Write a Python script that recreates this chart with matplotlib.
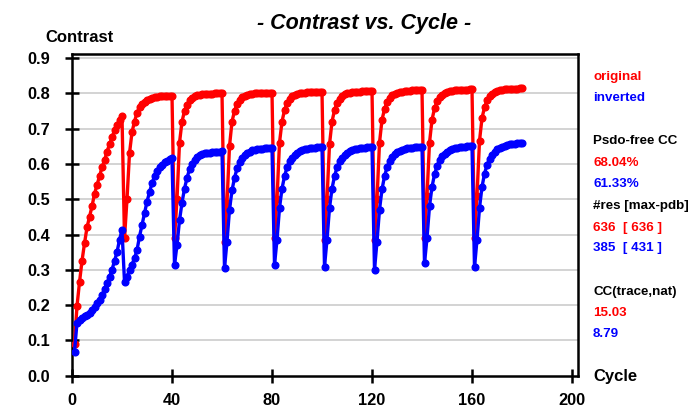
import matplotlib
matplotlib.use("Agg")
import matplotlib.pyplot as plt
import numpy as np

plt.rcParams['font.family'] = ['Liberation Sans', 'DejaVu Sans']

cycles = np.arange(1, 181)

original = [
    0.09, 0.197, 0.265, 0.325, 0.375, 0.42, 0.45, 0.48, 0.515, 0.54, 0.565, 0.59, 0.61, 0.635, 0.655, 0.675, 0.695, 0.71, 0.725, 0.735,
    0.39, 0.50, 0.63, 0.69, 0.72, 0.745, 0.76, 0.77, 0.775, 0.78, 0.784, 0.787, 0.789, 0.79, 0.791, 0.791, 0.792, 0.792, 0.793, 0.793,
    0.39, 0.50, 0.66, 0.72, 0.75, 0.768, 0.78, 0.787, 0.791, 0.794, 0.796, 0.797, 0.798, 0.798, 0.799, 0.799, 0.80, 0.80, 0.80, 0.80,
    0.38, 0.49, 0.65, 0.72, 0.75, 0.77, 0.782, 0.789, 0.793, 0.796, 0.798, 0.799, 0.80, 0.80, 0.801, 0.801, 0.802, 0.802, 0.802, 0.802,
    0.39, 0.50, 0.66, 0.72, 0.752, 0.772, 0.784, 0.791, 0.795, 0.798, 0.80, 0.801, 0.802, 0.803, 0.803, 0.804, 0.804, 0.804, 0.805, 0.805,
    0.385, 0.50, 0.655, 0.72, 0.752, 0.773, 0.785, 0.792, 0.797, 0.80, 0.802, 0.803, 0.804, 0.805, 0.805, 0.806, 0.806, 0.806, 0.807, 0.807,
    0.385, 0.50, 0.66, 0.725, 0.755, 0.775, 0.787, 0.794, 0.799, 0.802, 0.804, 0.805, 0.806, 0.807, 0.807, 0.808, 0.808, 0.808, 0.809, 0.809,
    0.39, 0.51, 0.66, 0.725, 0.757, 0.777, 0.789, 0.796, 0.801, 0.804, 0.806, 0.807, 0.808, 0.809, 0.809, 0.81, 0.81, 0.81, 0.811, 0.811,
    0.39, 0.51, 0.665, 0.73, 0.76, 0.78, 0.792, 0.799, 0.804, 0.807, 0.809, 0.81, 0.811, 0.812, 0.812, 0.813, 0.813, 0.813, 0.814, 0.814,
]

inverted = [
    0.068, 0.15, 0.158, 0.163, 0.168, 0.173, 0.178, 0.185, 0.195, 0.205, 0.214, 0.228, 0.245, 0.262, 0.28, 0.30, 0.325, 0.35, 0.385, 0.413,
    0.266, 0.28, 0.30, 0.315, 0.333, 0.356, 0.394, 0.427, 0.46, 0.493, 0.52, 0.545, 0.565, 0.58, 0.59, 0.598, 0.604, 0.609, 0.613, 0.617,
    0.314, 0.37, 0.44, 0.49, 0.53, 0.56, 0.585, 0.60, 0.612, 0.62, 0.625, 0.628, 0.63, 0.631, 0.632, 0.633, 0.634, 0.635, 0.635, 0.636,
    0.305, 0.38, 0.47, 0.525, 0.56, 0.587, 0.604, 0.616, 0.625, 0.631, 0.635, 0.638, 0.64, 0.641, 0.642, 0.643, 0.644, 0.644, 0.645, 0.645,
    0.314, 0.385, 0.475, 0.53, 0.565, 0.59, 0.607, 0.618, 0.626, 0.632, 0.636, 0.639, 0.641, 0.643, 0.644, 0.645, 0.646, 0.647, 0.647, 0.648,
    0.309, 0.385, 0.475, 0.53, 0.565, 0.59, 0.607, 0.618, 0.626, 0.632, 0.636, 0.639, 0.641, 0.643, 0.644, 0.645, 0.646, 0.647, 0.647, 0.648,
    0.30, 0.38, 0.47, 0.528, 0.565, 0.59, 0.607, 0.619, 0.627, 0.633, 0.637, 0.64, 0.642, 0.644, 0.645, 0.646, 0.647, 0.648, 0.648, 0.649,
    0.318, 0.39, 0.48, 0.535, 0.57, 0.594, 0.61, 0.621, 0.629, 0.635, 0.639, 0.642, 0.644, 0.646, 0.647, 0.648, 0.649, 0.65, 0.65, 0.65,
    0.307, 0.385, 0.475, 0.535, 0.572, 0.597, 0.614, 0.626, 0.635, 0.641, 0.645, 0.648, 0.651, 0.653, 0.655, 0.656, 0.657, 0.658, 0.659, 0.66,
]

x_ticks = [0, 40, 80, 120, 160, 200]
y_ticks = [0.0, 0.1, 0.2, 0.3, 0.4, 0.5, 0.6, 0.7, 0.8, 0.9]
y_tick_labels = ["0.0", "0.1", "0.2", "0.3", "0.4", "0.5", "0.6", "0.7", "0.8", "0.9"]

W, H = 692, 408
fig = plt.figure(figsize=(W / 100, H / 100), dpi=100)
ax = fig.add_axes([72 / W, 1 - 375.7 / H, (578 - 72) / W, (375.7 - 54.3) / H])

for y in y_ticks[1:]:
    ax.axhline(y, color="#d0d0d0", lw=1.3, zorder=0)

ax.plot(cycles, original, color="#ff0000", lw=2.4, marker="o", ms=4.8, zorder=3)
ax.plot(cycles, inverted, color="#0000ff", lw=2.4, marker="o", ms=4.8, zorder=4)

ax.set_xlim(0, 202.4)
ax.set_ylim(0, 0.9105)
ax.set_xticks(x_ticks)
ax.set_xticklabels([str(v) for v in x_ticks])
ax.set_yticks(y_ticks)
ax.set_yticklabels(y_tick_labels)
ax.tick_params(axis="both", direction="inout", length=9.5, width=1.8, color="black",
               labelsize=11.8)
ax.tick_params(axis="y", pad=11)
ax.tick_params(axis="x", pad=7.5)
for lab in ax.get_xticklabels() + ax.get_yticklabels():
    lab.set_fontweight("bold")
for sp in ax.spines.values():
    sp.set_linewidth(1.8)

fig.text(364 / W, 1 - 24 / H, "- Contrast vs. Cycle -", ha="center", va="center",
         fontsize=15.5, fontweight="bold", fontstyle="italic")
fig.text(79 / W, 1 - 38 / H, "Contrast", ha="center", va="center",
         fontsize=12, fontweight="bold")
fig.text(593 / W, 1 - 377 / H, "Cycle", ha="left", va="center",
         fontsize=12, fontweight="bold")

side = [
    ("original", "#ff0000", 76.7),
    ("inverted", "#0000ff", 98.3),
    ("Psdo-free CC", "black", 141),
    ("68.04%", "#ff0000", 162.7),
    ("61.33%", "#0000ff", 184),
    ("#res [max-pdb]", "black", 205.7),
    ("636  [ 636 ]", "#ff0000", 227.7),
    ("385  [ 431 ]", "#0000ff", 248.3),
    ("CC(trace,nat)", "black", 291.7),
    ("15.03", "#ff0000", 312.7),
    ("8.79", "#0000ff", 334),
]
for txt, col, yp in side:
    fig.text(593 / W, 1 - yp / H, txt, ha="left", va="center", color=col,
             fontsize=9.6, fontweight="bold")

fig.savefig("out.png", dpi=100)
